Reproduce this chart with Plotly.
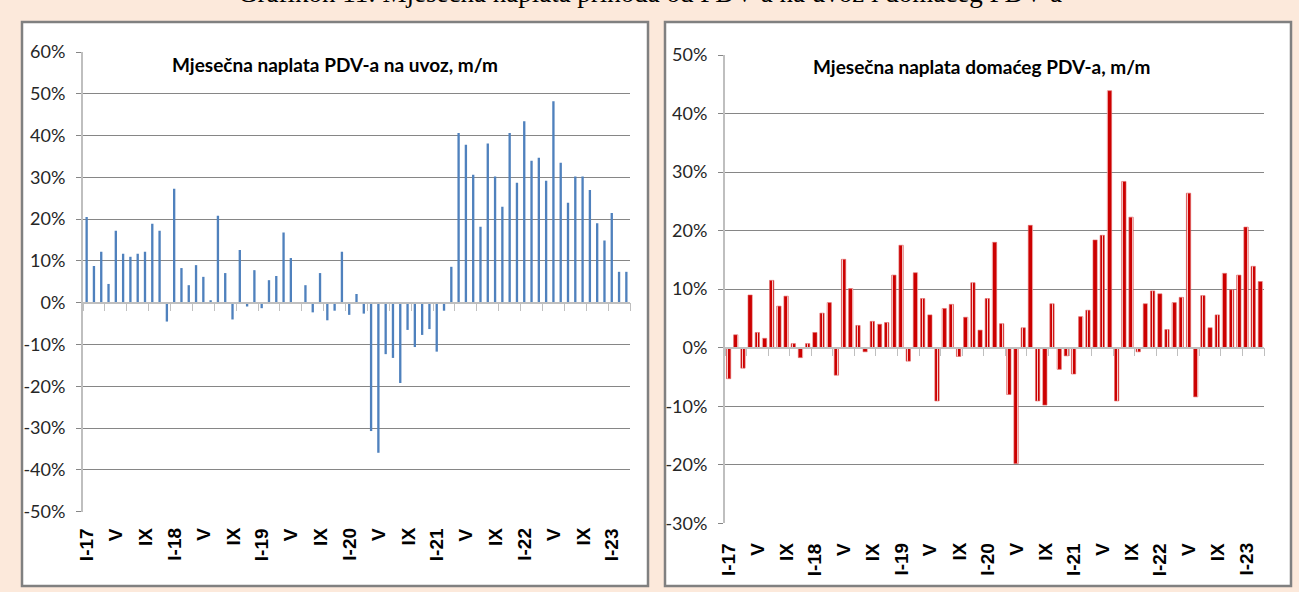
import plotly.graph_objects as go

# ---------------- data ----------------
months = ["I", "II", "III", "IV", "V", "VI", "VII", "VIII", "IX", "X", "XI", "XII"]
years = ["17", "18", "19", "20", "21", "22", "23"]
categories = [f"{m}-{y}" for y in years for m in months][:75]   # I-17 ... III-23

tick_labels = ["I-17", "V", "IX", "I-18", "V", "IX", "I-19", "V", "IX",
               "I-20", "V", "IX", "I-21", "V", "IX", "I-22", "V", "IX", "I-23"]
tick_cats = categories[::4]

# Mjesečna naplata PDV-a na uvoz, m/m (%)
import_vat = [20.5, 8.8, 12.2, 4.5, 17.2, 11.7, 11.0, 11.7, 12.2, 18.9, 17.2, -4.5,
              27.3, 8.3, 4.2, 9.0, 6.2, 0.6, 20.8, 7.1, -4.0, 12.6, -0.9, 7.8,
              -1.3, 5.4, 6.4, 16.8, 10.7, -0.3, 4.2, -2.3, 7.1, -4.2, -1.9, 12.2,
              -2.9, 2.1, -2.6, -30.7, -35.9, -12.3, -13.2, -19.2, -6.5, -10.6, -7.7, -6.3,
              -11.7, -1.9, 8.6, 40.6, 37.8, 30.6, 18.2, 38.1, 30.2, 23.0, 40.6, 28.7,
              43.4, 34.0, 34.7, 29.2, 48.2, 33.5, 23.9, 30.2, 30.2, 27.0, 19.0, 14.9,
              21.5, 7.4, 7.4]

# Mjesečna naplata domaćeg PDV-a, m/m (%)
domestic_vat = [-5.3, 2.2, -3.5, 9.0, 2.6, 1.6, 11.5, 7.1, 8.8, 0.7, -1.7, 0.7,
                2.6, 5.9, 7.7, -4.7, 15.1, 10.1, 3.8, -0.7, 4.5, 4.0, 4.3, 12.4,
                17.5, -2.3, 12.8, 8.4, 5.6, -9.1, 6.7, 7.4, -1.5, 5.2, 11.1, 3.0,
                8.4, 18.0, 4.1, -8.0, -19.8, 3.4, 20.9, -9.1, -9.8, 7.5, -3.7, -1.4,
                -4.5, 5.3, 6.4, 18.4, 19.2, 43.9, -9.1, 28.4, 22.3, -0.7, 7.5, 9.7,
                9.2, 3.1, 7.7, 8.6, 26.4, -8.4, 8.9, 3.4, 5.6, 12.7, 9.9, 12.4,
                20.6, 13.9, 11.3]

left_title = "Mjesečna naplata PDV-a na uvoz, m/m"
right_title = "Mjesečna naplata domaćeg PDV-a, m/m"
page_title = "Grafikon 11: Mjesečna naplata prihoda od PDV-a na uvoz i domaćeg PDV-a"

left_yticks = list(range(-50, 61, 10))
right_yticks = list(range(-30, 51, 10))

# ---------------- layout geometry ----------------
W, H = 1299, 592

def px_x(p):
    return p / W

def px_y(p):
    return 1 - p / H

L_dom_x = [px_x(83), px_x(630)]
L_dom_y = [px_y(511.7), px_y(52)]
L_range = [-50, 60]
R_dom_x = [px_x(725), px_x(1264)]
R_dom_y = [px_y(523.3), px_y(55)]
R_range = [-30, 50]

def zero_pos(dom, rng):
    return dom[0] + (0 - rng[0]) / (rng[1] - rng[0]) * (dom[1] - dom[0])

GRID = "#868686"
AXIS = "#BFBFBF"
TXT = "#262626"

fig = go.Figure()

fig.add_trace(go.Bar(
    x=categories, y=import_vat, xaxis="x", yaxis="y",
    marker=dict(color="#4F81BD", line=dict(width=0)),
    width=0.32, showlegend=False,
))

fig.add_trace(go.Bar(
    x=categories, y=domestic_vat, xaxis="x2", yaxis="y2",
    marker=dict(color="#CC0000", line=dict(color="#E06666", width=0.6),
                pattern=dict(shape="|", fgcolor="rgba(255,255,255,0.8)", bgcolor="#CC0000",
                             size=5, solidity=0.2, fillmode="replace")),
    width=0.6, showlegend=False,
))

def xaxis_cfg(dom, ydom, yrng):
    return dict(
        domain=dom, type="category", categoryorder="array", categoryarray=categories,
        range=[-0.5, len(categories) - 0.5], anchor="free",
        position=zero_pos(ydom, yrng), automargin=False,
        showline=True, linecolor=AXIS, linewidth=1.5,
        ticks="outside", ticklen=8, tickwidth=1, tickcolor=AXIS,
        tickson="boundaries", showticklabels=False, showgrid=False, zeroline=False,
        fixedrange=True,
    )

def yaxis_cfg(dom, rng, ticks, anchor):
    return dict(
        domain=dom, range=rng, anchor=anchor, automargin=False,
        tickvals=ticks, ticktext=[f"{t}%" for t in ticks],
        showgrid=True, gridcolor=GRID, gridwidth=1.3,
        showline=True, linecolor=AXIS, linewidth=2,
        ticks="outside", ticklen=5, tickcolor=GRID, tickwidth=1.3,
        ticklabelstandoff=7,
        tickfont=dict(family="Lato", size=18, color=TXT),
        zeroline=False, fixedrange=True,
    )

annotations = []
for cat, lab in zip(tick_cats, tick_labels):
    annotations.append(dict(
        x=cat, xref="x", y=px_y(526), yref="paper", text=lab, showarrow=False,
        textangle=-90, xanchor="center", yanchor="top",
        font=dict(family="Liberation Sans", size=19, color="black", weight="bold"),
    ))
    annotations.append(dict(
        x=cat, xref="x2", y=px_y(541), yref="paper", text=lab, showarrow=False,
        textangle=-90, xanchor="center", yanchor="top",
        font=dict(family="Liberation Sans", size=19, color="black", weight="bold"),
    ))

annotations.append(dict(
    x=px_x(335.4), y=px_y(64), xref="paper", yref="paper", text=f"<b>{left_title}</b>",
    showarrow=False, xanchor="center", yanchor="middle",
    font=dict(family="Lato", size=19, color="black"),
    bgcolor="white",
))
annotations.append(dict(
    x=px_x(981.7), y=px_y(66), xref="paper", yref="paper", text=f"<b>{right_title}</b>",
    showarrow=False, xanchor="center", yanchor="middle",
    font=dict(family="Lato", size=19, color="black"),
    bgcolor="white",
))
annotations.append(dict(
    x=px_x(650), y=px_y(10), xref="paper", yref="paper", text=page_title,
    showarrow=False, xanchor="center", yanchor="bottom",
    font=dict(family="Liberation Serif", size=27, color="black"),
))

shapes = [
    dict(type="rect", xref="paper", yref="paper", x0=px_x(22), x1=px_x(648),
         y0=px_y(586), y1=px_y(22), fillcolor="white",
         line=dict(color="#808080", width=2.5), layer="below"),
    dict(type="rect", xref="paper", yref="paper", x0=px_x(665), x1=px_x(1291),
         y0=px_y(586), y1=px_y(22), fillcolor="white",
         line=dict(color="#808080", width=2.5), layer="below"),
]

fig.update_layout(
    width=W, height=H,
    margin=dict(l=0, r=0, t=0, b=0, pad=0, autoexpand=False),
    paper_bgcolor="#FCE9DB",
    plot_bgcolor="rgba(0,0,0,0)",
    xaxis=xaxis_cfg(L_dom_x, L_dom_y, L_range),
    yaxis=yaxis_cfg(L_dom_y, L_range, left_yticks, "x"),
    xaxis2=xaxis_cfg(R_dom_x, R_dom_y, R_range),
    yaxis2=yaxis_cfg(R_dom_y, R_range, right_yticks, "x2"),
    annotations=annotations,
    shapes=shapes,
    showlegend=False,
)

fig.write_html("out.html", config={"displayModeBar": False},
               post_script="document.body.style.margin='0px';")
